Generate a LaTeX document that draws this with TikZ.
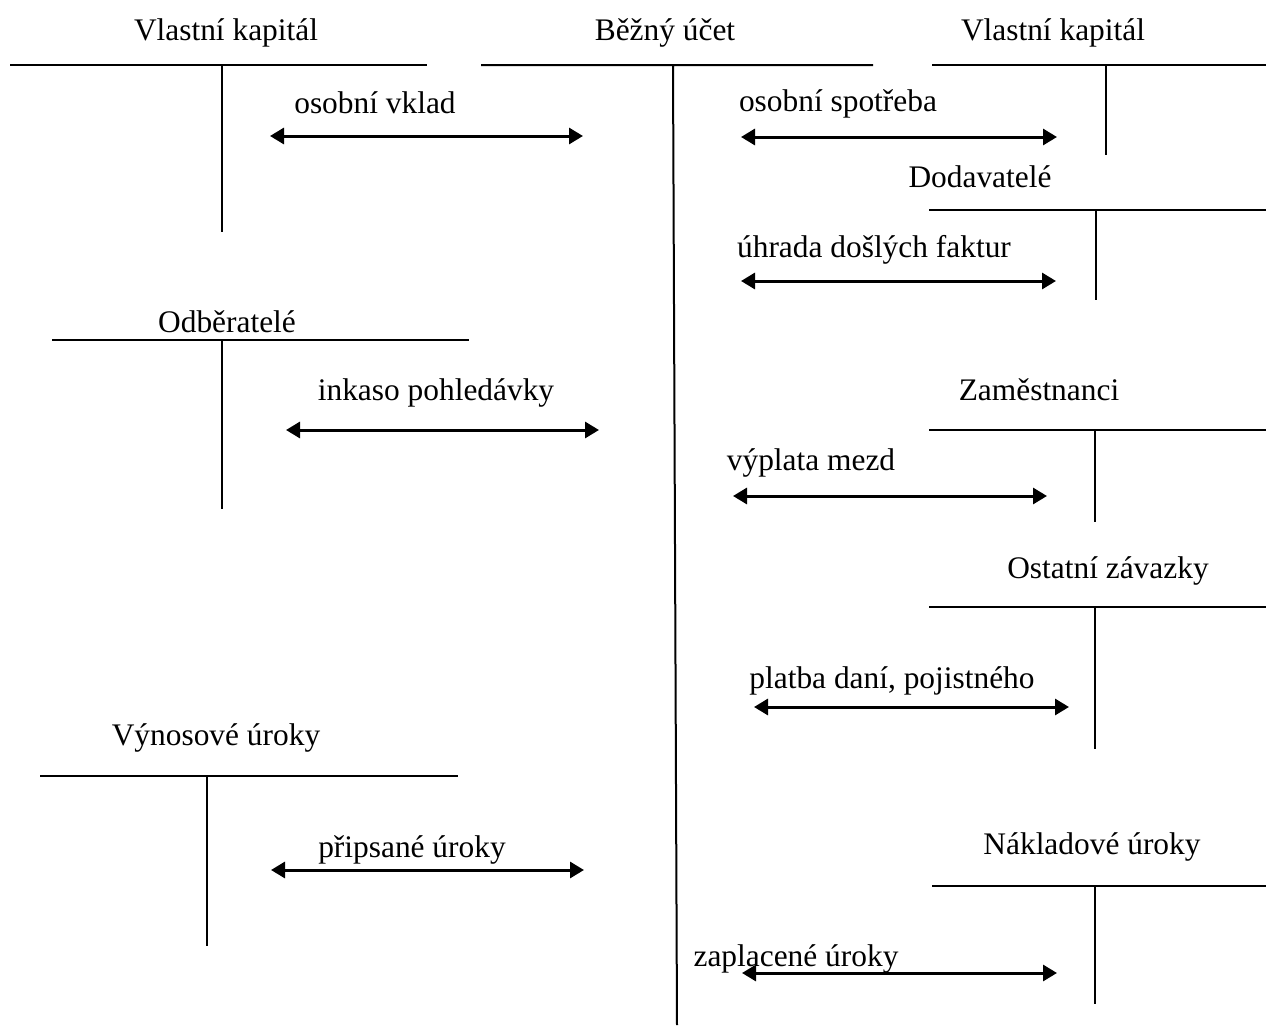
\documentclass[tikz,border=0pt]{standalone}
\usepackage{fontspec}
\setmainfont{Liberation Serif}
\usetikzlibrary{arrows.meta}

\begin{document}
\begin{tikzpicture}[x=0.5pt,y=-0.5pt,
    every node/.style={font=\fontsize{15.7}{19}\selectfont,inner sep=0pt,anchor=base},
    tline/.style={line width=1pt},
    flow/.style={{Triangle[length=7pt,width=8pt]}-{Triangle[length=7pt,width=8pt]},line width=1.5pt}]
    \useasboundingbox (0,0) rectangle (1266,1028);
    % T-accounts, left column
    \node (vkl) at (226,40) {Vlastní kapitál};
    \draw[tline] (10,65) -- (427,65) (222,65) -- (222,232);
    \node (odb) at (227,332) {Odběratelé};
    \draw[tline] (52,340) -- (469,340) (222,340) -- (222,509);
    \node (vyn) at (216,745) {Výnosové úroky};
    \draw[tline] (40,776) -- (458,776) (207,776) -- (207,946);
    % central account
    \node (bu) at (665,40) {Běžný účet};
    \draw[tline] (481,65) -- (873,65) (673,65) -- (677,1025);
    % T-accounts, right column
    \node (vkr) at (1053,40) {Vlastní kapitál};
    \draw[tline] (932,65) -- (1266,65) (1106,65) -- (1106,155);
    \node (dod) at (980,187) {Dodavatelé};
    \draw[tline] (929,210) -- (1266,210) (1096,210) -- (1096,300);
    \node (zam) at (1039,400) {Zaměstnanci};
    \draw[tline] (929,430) -- (1266,430) (1095,430) -- (1095,522);
    \node (ost) at (1108,578) {Ostatní závazky};
    \draw[tline] (929,607) -- (1266,607) (1095,607) -- (1095,749);
    \node (nak) at (1092,854) {Nákladové úroky};
    \draw[tline] (932,886) -- (1266,886) (1095,886) -- (1095,1004);
    % arrow ends
    \coordinate (a1l) at (270,136); \coordinate (a1r) at (583,136);
    \coordinate (a2l) at (286,430); \coordinate (a2r) at (599,430);
    \coordinate (a3l) at (271,870); \coordinate (a3r) at (584,870);
    \coordinate (b1l) at (741,137); \coordinate (b1r) at (1057,137);
    \coordinate (b2l) at (741,281); \coordinate (b2r) at (1056,281);
    \coordinate (b3l) at (733,496); \coordinate (b3r) at (1047,496);
    \coordinate (b4l) at (754,707); \coordinate (b4r) at (1069,707);
    \coordinate (b5l) at (742,973); \coordinate (b5r) at (1057,973);
    % labels
    \node (vklad) at (375,113) {osobní vklad};
    \node (inkaso) at (436,400) {inkaso pohledávky};
    \node (pripis) at (412,857) {připsané úroky};
    \node (spotr) at (838,112) {osobní spotřeba};
    \node (uhrada) at (874,257) {úhrada došlých faktur};
    \node (mzdy) at (811,470) {výplata mezd};
    \node (dane) at (892,688) {platba daní, pojistného};
    \node (zapl) at (796,966) {zaplacené úroky};
    % flows
    \draw[flow] (a1l) -- (a1r);
    \draw[flow] (a2l) -- (a2r);
    \draw[flow] (a3l) -- (a3r);
    \draw[flow] (b1l) -- (b1r);
    \draw[flow] (b2l) -- (b2r);
    \draw[flow] (b3l) -- (b3r);
    \draw[flow] (b4l) -- (b4r);
    \draw[flow] (b5l) -- (b5r);
\end{tikzpicture}
\end{document}
